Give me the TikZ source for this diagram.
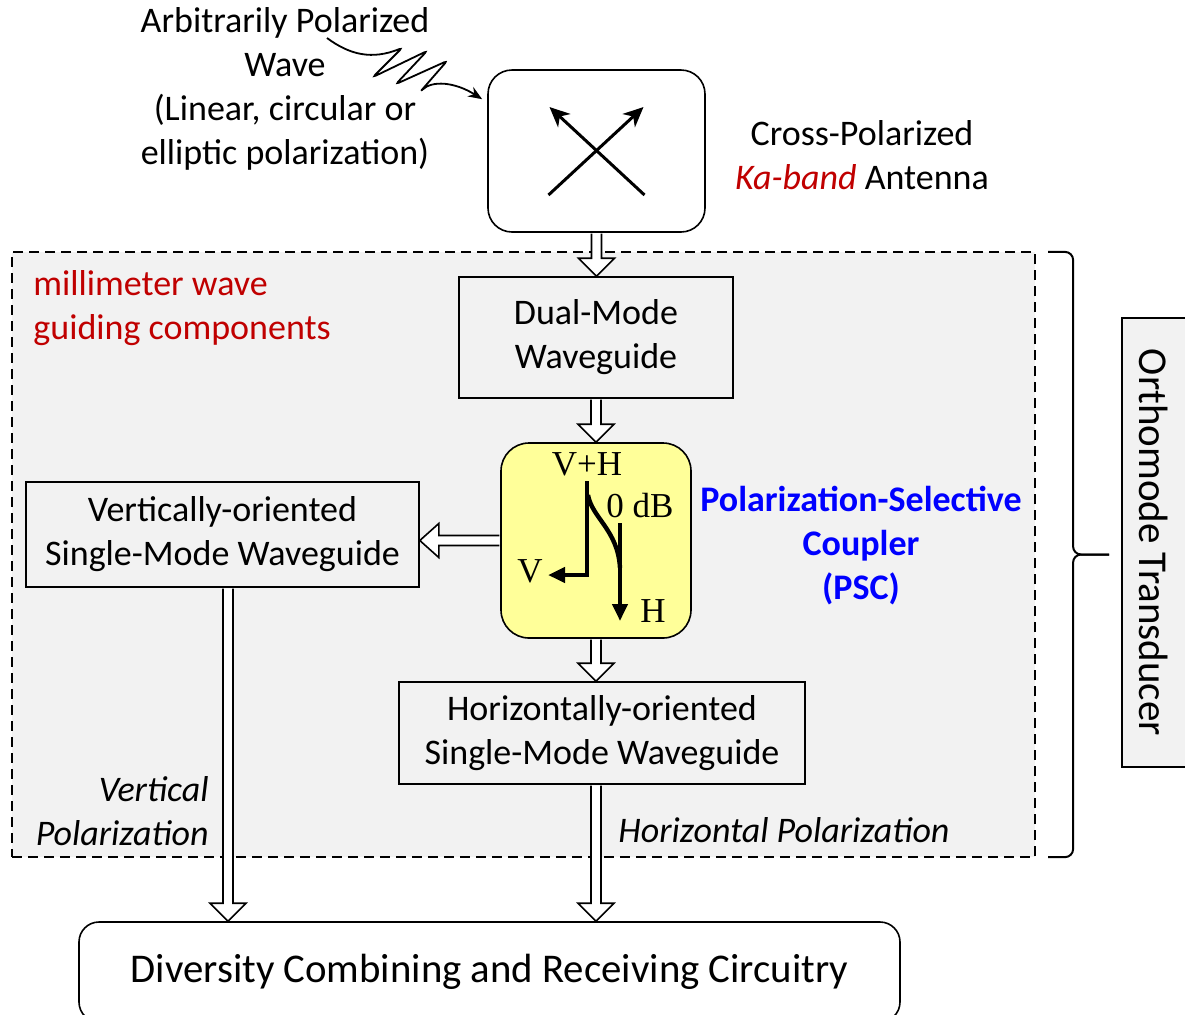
\documentclass[tikz,border=0pt]{standalone}
\usepackage{fontspec}
\setmainfont{Carlito}
\newfontfamily\timesfont{Liberation Serif}
\usetikzlibrary{calc,arrows.meta}
\definecolor{panel}{HTML}{F2F2F2}
\definecolor{wine}{HTML}{C00000}
\definecolor{royal}{HTML}{0000FF}
\definecolor{pale}{HTML}{FFFF99}
\tikzset{
  box/.style={draw=black, fill=panel, line width=0.8pt, inner sep=0pt, align=center, font=\fontsize{18}{22}\selectfont},
  rbox/.style={box, fill=white, rounded corners=12pt},
  region/.style={draw=black, fill=panel, dash pattern=on 5pt off 3pt, line width=1.1pt, inner sep=0pt},
  hol/.style={draw=black, fill=white, line width=0.8pt, line join=miter},
  thk/.style={draw=black, line width=2.2pt, line join=miter, -{Triangle[length=8.5pt,width=7.5pt]}},
  crs/.style={draw=black, line width=1.5pt, -{Stealth[length=10pt,width=9pt,inset=3pt]}},
  wav/.style={draw=black, line width=0.9pt, rounded corners=1.5pt, -{Stealth[length=7pt,width=5.5pt]}},
  brc/.style={draw=black, line width=1pt, rounded corners=4pt},
  lab/.style={font=\fontsize{18}{22}\selectfont, align=center, inner sep=0pt},
  labi/.style={lab, font=\fontsize{18}{22}\selectfont\itshape},
  labb/.style={lab, text=royal, font=\fontsize{18}{22}\selectfont\bfseries},
  pscl/.style={font=\timesfont\fontsize{17.5}{20}\selectfont, inner sep=0pt},
}
% hollow block arrows (pixel units, y grows downwards)
\newcommand{\holdown}[2]{%
  \draw[hol] ($(#1)+(-5,0.8)$) -- ($(#2)+(-5,-18)$) -- ($(#2)+(-18,-18)$) -- (#2)
    -- ($(#2)+(18,-18)$) -- ($(#2)+(5,-18)$) -- ($(#1)+(5,0.8)$);}
\newcommand{\holleft}[2]{%
  \draw[hol] ($(#1)+(-0.8,-5)$) -- ($(#2)+(19,-5)$) -- ($(#2)+(19,-17)$) -- (#2)
    -- ($(#2)+(19,17)$) -- ($(#2)+(19,5)$) -- ($(#1)+(-0.8,5)$);}
\begin{document}
\begin{tikzpicture}[x=0.5pt,y=-0.5pt]
  \useasboundingbox (0,0) rectangle (1185,1014);
  \fill[white] (0,0) rectangle (1185,1014);
  % guiding region and its brace
  \node[region, minimum width=511.5pt, minimum height=302.5pt] (guide) at (523.5,554.5) {};
  \node[lab, anchor=west, align=left, text=wine] (mmw) at (33,308) {millimeter wave\\guiding components};
  \node[box, rotate=-90, minimum width=224.5pt, minimum height=32pt, font=\fontsize{20.5}{24}\selectfont] (omt) at (1154,542.5) {Orthomode Transducer};
  \draw[brc] ($(guide.north east)+(12,1)$) -- ($(guide.north east)+(37,1)$) -- ($(guide.east)+(37,0)$) -- ($(guide.east)+(73,0)$);
  \draw[brc] ($(guide.south east)+(12,-1)$) -- ($(guide.south east)+(37,-1)$) -- ($(guide.east)+(37,0)$) -- ($(guide.east)+(73,0)$);
  % antenna
  \node[lab] (wave) at (285,89) {Arbitrarily Polarized\\Wave\\(Linear, circular or\\elliptic polarization)};
  \node[rbox, minimum width=108.5pt, minimum height=81pt] (ant) at (596.5,151) {};
  \node[lab] (anttxt) at (862,155) {Cross-Polarized\\\textcolor{wine}{\itshape Ka-band} Antenna};
  \draw[crs] ($(ant.center)+(-48,44)$) -- ($(ant.center)+(47,-44)$);
  \draw[crs] ($(ant.center)+(48,44)$) -- ($(ant.center)+(-47,-44)$);
  \coordinate (wv) at (327,38);
  \draw[wav] (wv) .. controls (350,55) and (372,60) .. (402,48) -- (373,77) -- (427,51) -- (396,84)
    -- (447,61) -- (420,92) .. controls (432,80) and (455,82) .. ($(ant.north west)+(-5,30)$);
  % waveguides
  \node[box, minimum width=137pt, minimum height=60.5pt] (dual) at (596,337.5) {Dual-Mode\\Waveguide};
  \node[box, fill=pale, rounded corners=14pt, minimum width=95pt, minimum height=97.5pt] (psc) at (596,540.5) {};
  \node[box, minimum width=196.5pt, minimum height=52.5pt] (vbox) at (222.5,534.5) {Vertically-oriented\\Single-Mode Waveguide};
  \node[box, minimum width=203pt, minimum height=51pt] (hbox) at (602,733) {Horizontally-oriented\\Single-Mode Waveguide};
  \node[rbox, rounded corners=10pt, minimum width=410.5pt, minimum height=50pt, font=\fontsize{20.4}{24}\selectfont] (comb) at (489.5,972) {Diversity Combining and Receiving Circuitry};
  \node[labb] (psctxt) at (861,546) {Polarization-Selective\\Coupler\\(PSC)};
  % coupler symbol
  \node[pscl] (vh) at (587,464) {V+H};
  \node[pscl] (db) at (640,506) {0 dB};
  \node[pscl] (vl) at (530,571) {V};
  \node[pscl] (hl) at (653,611) {H};
  \draw[thk] (587,481) -- (587,575) -- (548,575);
  \draw[thk] (620,523) -- (620,621);
  \draw[line width=2.2pt] (588,495) .. controls (592,518) and (618,530) .. (620,568);
  % block arrows
  \holdown{ant.south}{ant.south |- dual.north}
  \holdown{dual.south}{dual.south |- psc.north}
  \holleft{psc.west}{psc.west -| vbox.east}
  \holdown{psc.south}{psc.south |- hbox.north}
  \coordinate (hout) at (hbox.south -| psc.south);
  \holdown{hout}{hout |- comb.north}
  \coordinate (vout) at ($(vbox.south)+(5.5,0)$);
  \holdown{vout}{vout |- comb.north}
  \node[labi, anchor=east, align=right] (vpol) at (209,811) {Vertical\\Polarization};
  \node[labi] (hpol) at (784,830) {Horizontal Polarization};
\end{tikzpicture}
\end{document}
